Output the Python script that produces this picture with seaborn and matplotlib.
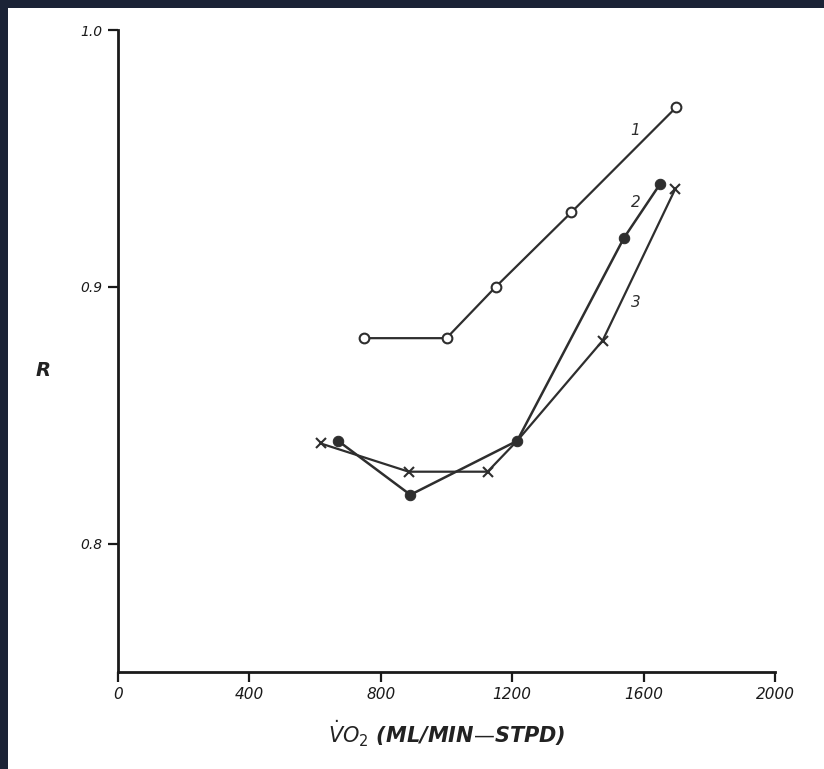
import matplotlib
matplotlib.use("Agg")
import matplotlib.pyplot as plt
import seaborn as sns
import pandas as pd
from matplotlib.patches import Rectangle

# Data
s1_x = [750, 1000, 1150, 1380, 1700]
s1_y = [0.880, 0.880, 0.900, 0.929, 0.970]

s2_x = [670, 890, 1215, 1540, 1650]
s2_y = [0.840, 0.819, 0.840, 0.919, 0.940]

s3_x = [617, 885, 1125, 1215, 1475, 1696]
s3_y = [0.839, 0.828, 0.828, 0.840, 0.879, 0.938]

x_ticks = [0, 400, 800, 1200, 1600, 2000]
x_tick_labels = ["0", "400", "800", "1200", "1600", "2000"]
y_ticks = [0.8, 0.9, 1.0]
y_tick_labels = ["0.8", "0.9", "1.0"]

curve_labels = ["1", "2", "3"]
label_x = [1575, 1577, 1575]
label_y = [0.961, 0.933, 0.894]

sns.set_style("white")
plt.rcParams['font.family'] = ['DejaVu Sans']

fig = plt.figure(figsize=(8.24, 7.69), dpi=100)
fig.patch.set_facecolor("#1b2336")
bg = Rectangle((8/824, 0), 1, 1 - 8/769, transform=fig.transFigure,
               facecolor="white", edgecolor="none", zorder=-10)
fig.add_artist(bg)

ax = fig.add_axes([118/824, 1 - 672/769, 657/824, 642/769])
ax.set_facecolor("none")
ax.set_zorder(5)

ink = "#2e2e2e"
d1 = pd.DataFrame({"x": s1_x, "y": s1_y})
d2 = pd.DataFrame({"x": s2_x, "y": s2_y})
d3 = pd.DataFrame({"x": s3_x, "y": s3_y})

sns.lineplot(data=d1, x="x", y="y", sort=False, ax=ax, color=ink, lw=1.6,
             marker="o", markersize=7, markerfacecolor="white",
             markeredgecolor=ink, markeredgewidth=1.5)
sns.lineplot(data=d3, x="x", y="y", sort=False, ax=ax, color=ink, lw=1.6,
             marker="x", markersize=7, markeredgewidth=1.5,
             markeredgecolor=ink, markerfacecolor=ink,
             markevery=[0, 1, 2, 4, 5])
sns.lineplot(data=d2, x="x", y="y", sort=False, ax=ax, color=ink, lw=1.8,
             marker="o", markersize=7.5, markerfacecolor=ink,
             markeredgecolor=ink)

for t, lx, ly in zip(curve_labels, label_x, label_y):
    ax.text(lx, ly, t, fontsize=11, color=ink, ha="center", va="center",
            style="italic")

ax.set_xlim(0, 2000)
ax.set_ylim(0.75, 1.0)
ax.set_xticks(x_ticks)
ax.set_xticklabels(x_tick_labels, fontsize=11, style="italic", color="#222222")
ax.set_yticks(y_ticks)
ax.set_yticklabels(y_tick_labels, fontsize=10, style="italic", color="#222222")

for side in ["top", "right"]:
    ax.spines[side].set_visible(False)
for side in ["left", "bottom"]:
    ax.spines[side].set_color("#1a1a1a")
    ax.spines[side].set_linewidth(2.0)

ax.tick_params(axis="both", direction="out", length=7, width=1.6,
               colors="#1a1a1a", pad=4, left=True, bottom=True)

ax.set_xlabel(r"$\dot{V}O_2$" + " (ML/MIN—STPD)", fontsize=15, style="italic",
              fontweight="bold", color="#222222", labelpad=12)
ax.set_ylabel("R", fontsize=14, style="italic", fontweight="bold",
              rotation=0, color="#222222")
ax.yaxis.set_label_coords(-0.114, 0.455)

fig.savefig("out.png", dpi=100, facecolor=fig.get_facecolor())
